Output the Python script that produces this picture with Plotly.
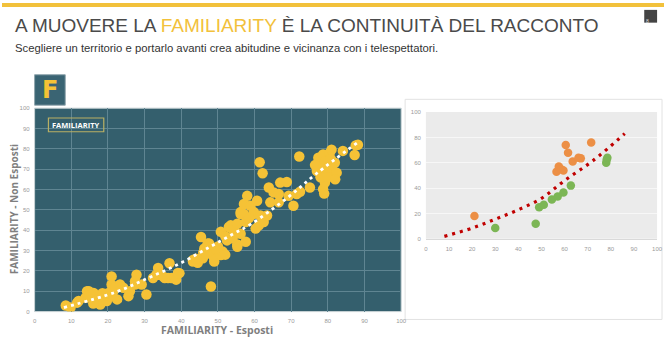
import plotly.graph_objects as go

W, H = 670, 349

# ---------------- data ----------------
left_x = [8.5, 9.8, 11.6, 12.0, 13.9, 14.8, 14.3, 16.1, 17.0, 17.9, 18.8, 19.7, 20.6, 21.0, 21.0, 21.0,
          21.5, 22.0, 23.3, 24.2, 25.6, 26.0, 27.4, 27.4, 27.8, 29.2, 30.5, 16.0, 15.0, 18.5, 22.5, 20.0,
          32.3, 33.2, 33.7, 33.7, 35.0, 35.5, 36.4, 36.8, 37.3, 38.2, 38.6, 39.5, 39.1, 43.2, 43.2, 44.5,
          45.4, 45.4, 45.9, 46.3, 46.8, 47.2, 47.6, 48.1, 48.6, 49.0, 49.0, 50.8, 50.8, 51.3, 52.0, 44.0,
          46.0, 48.0, 50.0, 52.5, 47.0, 49.5,
          53.0, 53.5, 54.4, 54.4, 55.3, 55.3, 55.3, 56.2, 56.2, 56.2, 57.1, 57.1, 57.6, 57.6, 58.0, 58.9,
          59.8, 59.8, 60.3, 60.7, 61.2, 61.4, 61.6, 62.2, 62.5, 63.4, 63.9, 64.3, 65.2, 66.6, 66.6, 67.0,
          68.8, 69.3, 70.6, 71.5, 72.2, 72.4, 75.1, 52.0, 54.0, 58.5,
          77.0, 77.4, 77.8, 78.7, 78.7, 79.2, 79.2, 79.6, 80.5, 80.5, 81.0, 81.4, 81.9, 82.4, 84.1, 87.6,
          87.3, 88.2, 78.0, 80.0, 82.0, 79.0, 76.5, 80.8]
left_y = [3.0, 2.0, 4.4, 5.2, 6.8, 10.0, 10.0, 9.2, 6.0, 3.5, 6.8, 5.2, 7.6, 10.0, 13.3, 17.3,
          10.0, 12.0, 13.3, 11.7, 7.6, 10.0, 13.3, 14.9, 18.1, 13.3, 8.4, 4.0, 8.0, 9.0, 6.0, 9.0,
          16.5, 18.1, 21.4, 18.1, 17.3, 16.5, 16.5, 23.8, 16.5, 16.5, 15.7, 18.9, 19.0, 24.6, 25.4, 24.0,
          36.7, 26.2, 26.2, 31.0, 30.2, 33.5, 33.5, 12.3, 27.8, 24.6, 26.2, 27.8, 39.2, 29.5, 28.0, 26.0,
          29.0, 30.0, 32.0, 35.0, 28.5, 31.0,
          41.6, 42.4, 39.2, 41.6, 43.2, 31.9, 33.0, 38.3, 48.0, 48.9, 52.9, 48.0, 44.0, 34.3, 56.9, 52.0,
          48.9, 48.0, 40.8, 54.5, 42.4, 73.4, 47.2, 68.0, 44.0, 47.2, 61.0, 53.7, 58.6, 57.8, 53.7, 63.4,
          63.7, 56.9, 52.0, 57.8, 76.2, 58.9, 61.0, 37.0, 36.0, 46.0,
          69.1, 75.6, 71.5, 77.2, 60.2, 73.9, 63.4, 69.1, 78.0, 71.5, 79.6, 69.1, 73.2, 68.3, 79.0, 81.7,
          77.0, 82.0, 66.0, 66.0, 65.0, 58.0, 72.0, 75.0]

left_trend_x = [8, 22, 31, 40, 48, 54, 59, 69, 77, 88]
left_trend_y = [2, 9.5, 16.5, 24, 32, 38, 43, 56, 68, 83]

orange_x = [21, 56.5, 57.5, 58.5, 59.5, 60.5, 61.5, 63.5, 66, 67, 71.5]
orange_y = [18, 53, 57, 55, 54, 74, 68, 61, 64, 63.5, 76]
green_x = [30, 47.5, 49, 51, 54.5, 57, 59.5, 62.7, 78, 78.2, 78.5]
green_y = [8.5, 12, 25, 27, 31, 33.5, 36.5, 42, 60, 62.5, 64]

right_trend_x = [8, 20, 30, 40, 50, 60, 72.5, 86]
right_trend_y = [2, 8.5, 15.5, 23, 32, 46, 62, 83]

ticks10 = list(range(0, 101, 10))
ticks20 = list(range(0, 101, 20))

# ---------------- helpers ----------------
def px(x):
    return x / W

def py(y):
    return 1 - y / H

TEAL = "#345f6d"
YELLOW = "#f5c236"

fig = go.Figure()

fig.add_trace(go.Scatter(x=left_x, y=left_y, mode="markers", xaxis="x", yaxis="y",
                         marker=dict(size=10.5, color=YELLOW, line=dict(width=0)),
                         hoverinfo="skip", showlegend=False))
fig.add_trace(go.Scatter(x=left_trend_x, y=left_trend_y, mode="lines", xaxis="x", yaxis="y",
                         line=dict(color="white", width=2.8, dash="3px,4px", shape="spline"),
                         hoverinfo="skip", showlegend=False))

fig.add_trace(go.Scatter(x=right_trend_x, y=right_trend_y, mode="lines", xaxis="x2", yaxis="y2",
                         line=dict(color="#c00000", width=3.2, dash="3px,5px", shape="spline"),
                         hoverinfo="skip", showlegend=False))
fig.add_trace(go.Scatter(x=orange_x, y=orange_y, mode="markers", xaxis="x2", yaxis="y2",
                         marker=dict(size=8.5, color="#ec8f45", line=dict(width=0)),
                         hoverinfo="skip", showlegend=False))
fig.add_trace(go.Scatter(x=green_x, y=green_y, mode="markers", xaxis="x2", yaxis="y2",
                         marker=dict(size=8.5, color="#7cb655", line=dict(width=0)),
                         hoverinfo="skip", showlegend=False))

tickfont = dict(family="Liberation Sans, Arial, sans-serif", size=6, color="#9a9a9a")

shapes = [
    dict(type="rect", xref="paper", yref="paper", x0=0, x1=1, y0=py(4), y1=1,
         fillcolor="#f2c13b", line=dict(width=0)),
    dict(type="rect", xref="paper", yref="paper", x0=px(650), x1=px(663), y0=py(20), y1=py(7),
         fillcolor="#444444", line=dict(width=0)),
    dict(type="rect", xref="x domain", yref="y domain", x0=0, x1=1, y0=0, y1=1,
         fillcolor=TEAL, line=dict(color="#c9d3d6", width=1), layer="below"),
    dict(type="rect", xref="paper", yref="paper", x0=px(408), x1=px(668), y0=py(322), y1=py(98),
         fillcolor="rgba(0,0,0,0)", line=dict(color="#e2e2e2", width=1), layer="below"),
    dict(type="rect", xref="x2 domain", yref="y2 domain", x0=0, x1=1, y0=0, y1=1,
         fillcolor="#ebebeb", line=dict(width=0), layer="below"),
    dict(type="rect", xref="paper", yref="paper", x0=px(33), x1=px(64), y0=py(104), y1=py(73),
         fillcolor="#3a6473", line=dict(color="#8fa5ad", width=1)),
    dict(type="rect", xref="paper", yref="paper", x0=px(47), x1=px(103), y0=py(131), y1=py(117),
         fillcolor="rgba(0,0,0,0)", line=dict(color="#b9b064", width=1.2)),
]

annotations = [
    dict(text="A MUOVERE LA <span style='color:#f2c13b'>FAMILIARITY</span> È LA CONTINUITÀ DEL RACCONTO",
         x=px(11), y=py(23), xref="paper", yref="paper", xanchor="left", yanchor="middle",
         showarrow=False, font=dict(family="Liberation Sans, Arial, sans-serif",
                                    size=19, color="#4a4a4a")),
    dict(text="Scegliere un territorio e portarlo avanti crea abitudine e vicinanza con i telespettatori.",
         x=px(11), y=py(46), xref="paper", yref="paper", xanchor="left", yanchor="middle",
         showarrow=False, font=dict(family="Liberation Sans, Arial, sans-serif", size=11.3, color="#333333")),
    dict(text="8", x=px(656.5), y=py(13.5), xref="paper", yref="paper", showarrow=False,
         font=dict(family="Liberation Sans, sans-serif", size=5, color="#dddddd")),
    dict(text="<b>F</b>", x=px(48.5), y=py(89), xref="paper", yref="paper", showarrow=False,
         xanchor="center", yanchor="middle",
         font=dict(family="DejaVu Sans, sans-serif", size=24, color=YELLOW)),
    dict(text="<b>FAMILIARITY</b>", x=px(75), y=py(124), xref="paper", yref="paper", showarrow=False,
         xanchor="center", yanchor="middle",
         font=dict(family="Open Sans, Liberation Sans, sans-serif", size=7.5, color="white")),
    dict(text="<b>FAMILIARITY - Esposti</b>", x=px(218), y=py(333), xref="paper", yref="paper",
         showarrow=False, xanchor="center", yanchor="middle",
         font=dict(family="Open Sans, Liberation Sans, sans-serif", size=10.5, color="#7f7f7f")),
    dict(text="<b>FAMILIARITY - Non Esposti</b>", x=px(13), y=py(210), xref="paper", yref="paper",
         showarrow=False, xanchor="center", yanchor="middle", textangle=-90,
         font=dict(family="Open Sans, Liberation Sans, sans-serif", size=10, color="#7f7f7f")),
]

fig.update_layout(
    width=W, height=H, margin=dict(l=0, r=0, t=0, b=0),
    paper_bgcolor="white", plot_bgcolor="rgba(0,0,0,0)",
    showlegend=False,
    xaxis=dict(domain=[px(33), px(404)], range=[0, 100], tickvals=ticks10, showgrid=True,
               gridcolor="#5f8592", gridwidth=1, zeroline=False, showline=False,
               tickfont=tickfont, ticks="", anchor="y", ticklabelstandoff=4, fixedrange=True),
    yaxis=dict(domain=[py(314), py(107)], range=[0, 100], tickvals=ticks10, showgrid=True,
               gridcolor="#5f8592", gridwidth=1, zeroline=False, showline=False,
               tickfont=tickfont, ticks="", anchor="x", ticklabelstandoff=4, fixedrange=True),
    xaxis2=dict(domain=[px(429), px(663)], range=[0, 100], tickvals=ticks10, showgrid=False,
                zeroline=False, showline=True, linecolor="#d9d9d9", tickfont=tickfont, ticks="",
                anchor="y2", ticklabelstandoff=4, fixedrange=True),
    yaxis2=dict(domain=[py(240), py(111)], range=[0, 100], tickvals=ticks20, showgrid=True,
                gridcolor="#f7f7f7", gridwidth=1, zeroline=False, showline=False,
                tickfont=tickfont, ticks="", anchor="x2", ticklabelstandoff=4, fixedrange=True),
    shapes=shapes, annotations=annotations,
)

fig.write_html("out.html")
